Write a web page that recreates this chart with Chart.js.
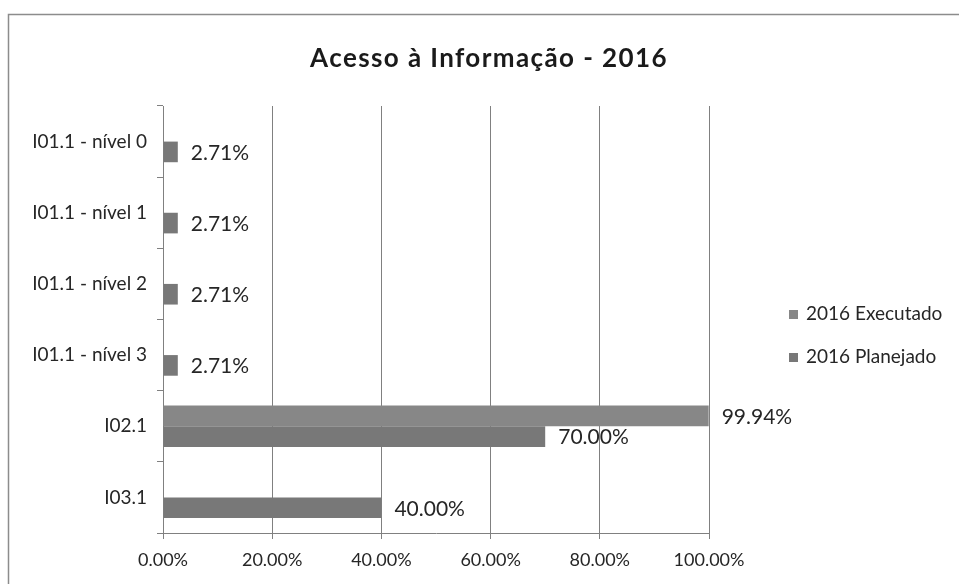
<!DOCTYPE html>
<html>
<head>
<meta charset="utf-8">
<script src="https://cdn.jsdelivr.net/npm/chart.js@4.4.1/dist/chart.umd.min.js"></script>
<style>
  html, body { margin: 0; padding: 0; background: #fff; }
  #wrap { width: 959px; height: 584px; }
</style>
</head>
<body>
<div id="wrap"><canvas id="bar-chart" width="959" height="584"></canvas></div>
<script>
const categories = ['I01.1 - nível 0', 'I01.1 - nível 1', 'I01.1 - nível 2', 'I01.1 - nível 3', 'I02.1', 'I03.1'];
const executado = [null, null, null, null, 99.94, null];
const planejado = [2.71, 2.71, 2.71, 2.71, 70.00, 40.00];
const seriesNames = ['2016 Executado', '2016 Planejado'];
const chartTitle = 'Acesso à Informação - 2016';
const xMin = 0;
const xMax = 100;
const xStep = 20;

const FONT = "Lato, 'Open Sans', sans-serif";
const TEXT = '#262626';

function pct(v) {
    return v.toFixed(2) + '%';
}

// white page, grey chart frame and the title
const framePlugin = {
    id: 'frame',
    beforeDraw(chart) {
        const ctx = chart.ctx;
        ctx.save();
        ctx.fillStyle = '#fff';
        ctx.fillRect(0, 0, chart.width, chart.height);
        ctx.strokeStyle = '#8c8c8c';
        ctx.lineWidth = 1.5;
        ctx.strokeRect(8.5, 14.5, chart.width + 20, chart.height + 20);

        ctx.fillStyle = '#1a1a1a';
        ctx.font = 'bold 26px ' + FONT;
        ctx.letterSpacing = '1.4px';
        ctx.textAlign = 'center';
        ctx.textBaseline = 'middle';
        ctx.fillText(chartTitle, 489, 59);
        ctx.restore();
    }
};

// value labels at the end of each bar
const valueLabels = {
    id: 'valueLabels',
    afterDatasetsDraw(chart) {
        const ctx = chart.ctx;
        ctx.save();
        ctx.font = '21px ' + FONT;
        ctx.fillStyle = TEXT;
        ctx.textAlign = 'left';
        ctx.textBaseline = 'middle';
        chart.data.datasets.forEach((ds, i) => {
            const meta = chart.getDatasetMeta(i);
            meta.data.forEach((bar, j) => {
                const v = ds.data[j];
                if (v === null || v === undefined) return;
                ctx.fillText(pct(v), bar.x + 13, bar.y + 1);
            });
        });
        ctx.restore();
    }
};

// legend on the right, Excel style
const sideLegend = {
    id: 'sideLegend',
    afterDraw(chart) {
        const ctx = chart.ctx;
        const x = chart.chartArea.right + 80;
        let y = 314;
        ctx.save();
        ctx.font = '19px ' + FONT;
        ctx.textBaseline = 'middle';
        chart.data.datasets.forEach(ds => {
            ctx.fillStyle = ds.backgroundColor;
            ctx.fillRect(x, y - 4, 9, 9);
            ctx.fillStyle = TEXT;
            ctx.fillText(ds.label, x + 17, y);
            y += 43;
        });
        ctx.restore();
    }
};

const ctx = document.getElementById('bar-chart').getContext('2d');
new Chart(ctx, {
    type: 'bar',
    data: {
        labels: categories,
        datasets: [
            {
                label: seriesNames[0],
                data: executado,
                backgroundColor: '#878787',
                barPercentage: 1.0,
                categoryPercentage: 0.58
            },
            {
                label: seriesNames[1],
                data: planejado,
                backgroundColor: '#787878',
                barPercentage: 1.0,
                categoryPercentage: 0.58
            }
        ]
    },
    options: {
        indexAxis: 'y',
        responsive: false,
        animation: false,
        layout: {
            padding: { left: 13, right: 250, top: 106, bottom: 0 }
        },
        plugins: {
            legend: { display: false },
            tooltip: { enabled: false },
            title: { display: false }
        },
        scales: {
            x: {
                min: xMin,
                max: xMax,
                ticks: {
                    stepSize: xStep,
                    color: TEXT,
                    font: { family: FONT, size: 18 },
                    padding: 10,
                    callback: v => pct(v)
                },
                grid: {
                    color: '#808080',
                    lineWidth: 1,
                    tickLength: 6
                },
                border: { color: '#808080', width: 1 },
                afterFit(scale) {
                    scale.height = 51;
                }
            },
            y: {
                ticks: {
                    color: TEXT,
                    font: { family: FONT, size: 19 },
                    padding: 10
                },
                grid: {
                    drawOnChartArea: false,
                    color: '#808080',
                    tickLength: 6
                },
                border: { color: '#808080', width: 1 },
                afterFit(scale) {
                    scale.width = 150;
                }
            }
        }
    },
    plugins: [framePlugin, valueLabels, sideLegend]
});
</script>
</body>
</html>
